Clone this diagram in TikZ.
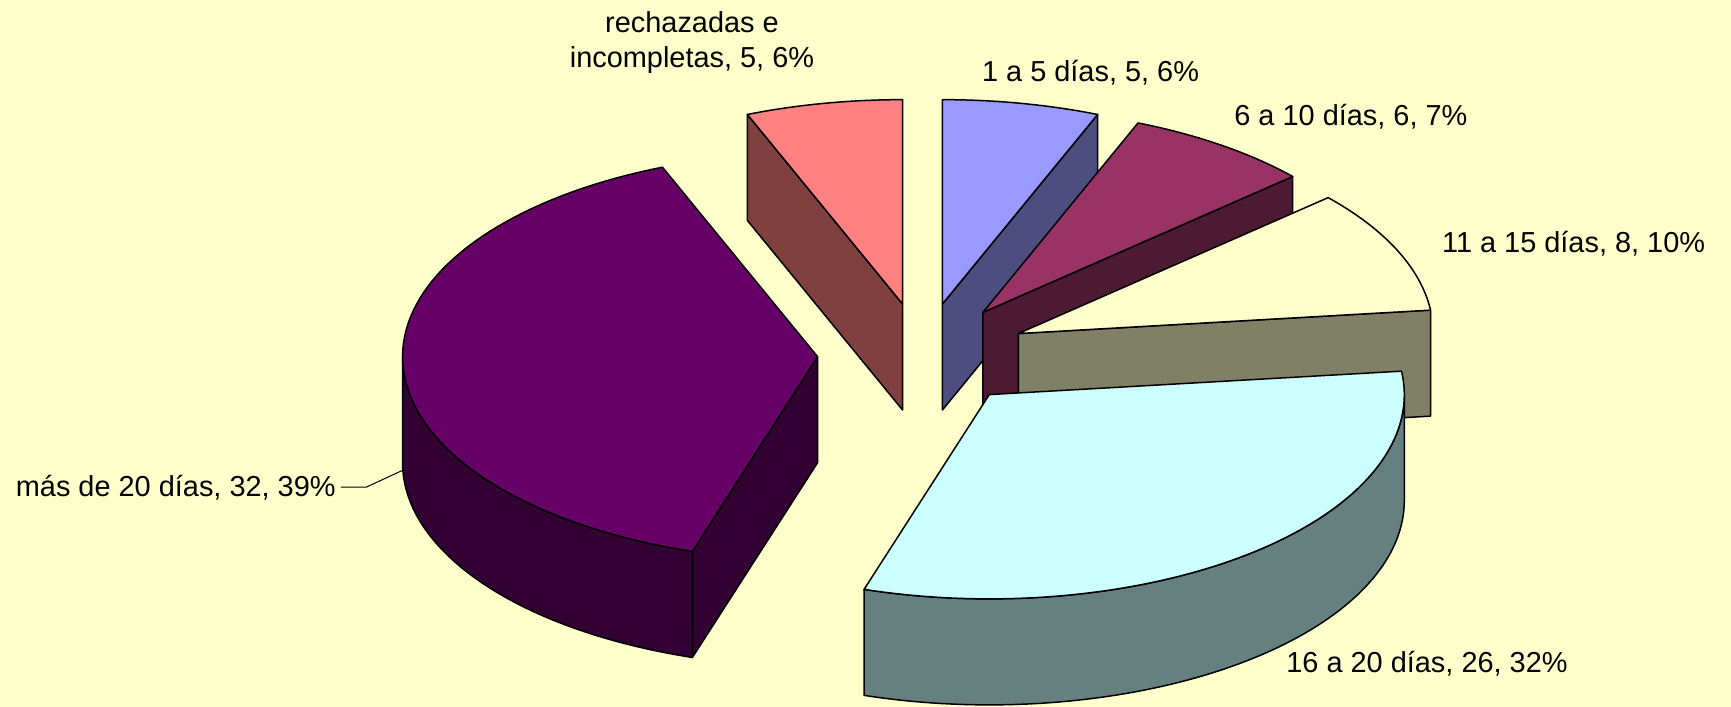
\documentclass[tikz,border=0pt]{standalone}
\usepackage{fontspec}
\setmainfont{Liberation Sans}
\definecolor{bgc}{HTML}{FFFFCC}
\definecolor{pinkT}{HTML}{FF8080}\definecolor{pinkS}{HTML}{804040}
\definecolor{blueT}{HTML}{9999FF}\definecolor{blueS}{HTML}{4D4D80}
\definecolor{marT}{HTML}{993366}\definecolor{marS}{HTML}{4D1A33}
\definecolor{creT}{HTML}{FFFFCC}\definecolor{creS}{HTML}{808066}
\definecolor{cyaT}{HTML}{CCFFFF}\definecolor{cyaS}{HTML}{668080}
\definecolor{purT}{HTML}{660066}\definecolor{purS}{HTML}{330033}
\begin{document}
\begin{tikzpicture}[x=0.5pt,y=0.5pt,
  wedge/.style={draw=black,line width=0.75pt,line join=round},
  lbl/.style={font=\fontsize{14.45}{17.5}\selectfont,inner sep=0pt},
  leader/.style={draw=black,line width=0.5pt}]
\fill[bgc] (0,0) rectangle (1731,-707);
\useasboundingbox (0,0) rectangle (1731,-707);
\foreach \ka/\kb/\topc/\sidec in {77/82/pinkT/pinkS,0/5/blueT/blueS,5/11/marT/marS,
    11/19/creT/creS,19/45/cyaT/cyaS,45/77/purT/purS}{
  \pgfmathsetmacro\ts{\ka*4.3902439}
  \pgfmathsetmacro\te{\kb*4.3902439}
  \pgfmathsetmacro\tm{(\ts+\te)/2}
  \pgfmathsetmacro\wa{max(\ts,90)}
  \pgfmathsetmacro\wb{min(\te,270)}
  \pgfmathtruncatemacro\visE{sin(\te)>0.01}
  \pgfmathtruncatemacro\visS{sin(\ts)<-0.01}
  \pgfmathtruncatemacro\visW{\wb>\wa}
  \begin{scope}[shift={({922.5+105*sin(\tm)},{-354.7+51.7*cos(\tm)})}]
    \ifnum\visE=1
      \filldraw[wedge,fill=\sidec] (0,0) -- ({415*sin(\te)},{204.3*cos(\te)}) -- ++(0,-106) -- (0,-106) -- cycle;
    \fi
    \ifnum\visS=1
      \filldraw[wedge,fill=\sidec] (0,0) -- ({415*sin(\ts)},{204.3*cos(\ts)}) -- ++(0,-106) -- (0,-106) -- cycle;
    \fi
    \ifnum\visW=1
      \filldraw[wedge,fill=\sidec] plot[domain=\wa:\wb,samples=80] ({415*sin(\x)},{204.3*cos(\x)})
        -- plot[domain=\wb:\wa,samples=80] ({415*sin(\x)},{204.3*cos(\x)-106}) -- cycle;
    \fi
    \filldraw[wedge,fill=\topc] (0,0) -- plot[domain=\ts:\te,samples=80] ({415*sin(\x)},{204.3*cos(\x)}) -- cycle;
  \end{scope}
}
\node[lbl,align=center,anchor=north] (rech) at (692,-11) {rechazadas e\\incompletas, 5, 6\%};
\node[lbl,anchor=base west] (d1) at (981.7,-81) {1 a 5 días, 5, 6\%};
\node[lbl,anchor=base west] (d6) at (1234,-125) {6 a 10 días, 6, 7\%};
\node[lbl,anchor=base west] (d11) at (1441.7,-252.3) {11 a 15 días, 8, 10\%};
\node[lbl,anchor=base west] (d16) at (1286,-672.3) {16 a 20 días, 26, 32\%};
\node[lbl,anchor=base east] (mas) at (336,-496) {más de 20 días, 32, 39\%};
\coordinate (masend) at (403.3,-470);
\draw[leader] ([xshift=2.4pt]mas.east) -- ++(25.3,0) -- (masend);
\end{tikzpicture}
\end{document}
